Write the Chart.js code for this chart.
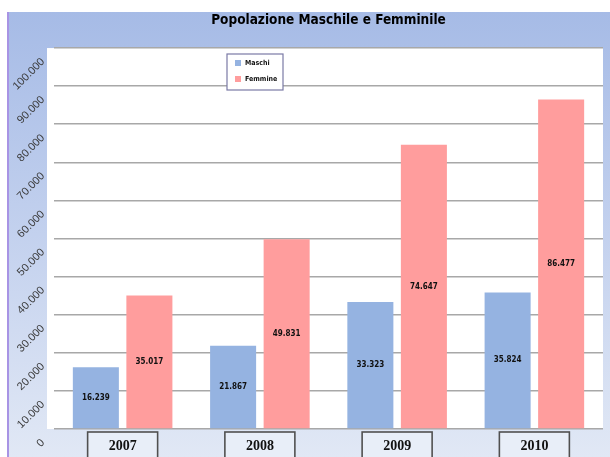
<!DOCTYPE html>
<html><head><meta charset="utf-8">
<script src="https://cdn.jsdelivr.net/npm/chart.js@4.4.0/dist/chart.umd.min.js"></script>
<style>html,body{margin:0;padding:0;background:#fff;}#wrap{width:610px;height:457px;position:relative;overflow:hidden}</style>
</head><body><div id="wrap"><canvas id="c" width="610" height="457"></canvas></div>
<script>
const categories = ['2007', '2008', '2009', '2010'];
const seriesNames = ['Maschi', 'Femmine'];
const maschi = [16239, 21867, 33323, 35824];
const femmine = [35017, 49831, 74647, 86477];
const yMin = 0, yMax = 100000, yStep = 10000;

const NARROW = '"Liberation Sans Narrow", "DejaVu Sans Condensed", "Arial Narrow", sans-serif';
const colors = ['#95b3e1', '#ff9d9d'];

function fmt(v) { return String(v).replace(/\B(?=(\d{3})+(?!\d))/g, '.'); }

const bgPlugin = {
  id: 'bg',
  beforeDraw(chart) {
    const ctx = chart.ctx, a = chart.chartArea;
    ctx.save();
    const g = ctx.createLinearGradient(0, 12, 0, 457);
    g.addColorStop(0, '#a6bbe6');
    g.addColorStop(0.5, '#c3d1ee');
    g.addColorStop(1, '#e1e8f5');
    ctx.fillStyle = g;
    ctx.fillRect(8, 12, 602, 445);
    ctx.fillStyle = '#a894e4';
    ctx.fillRect(7, 12, 2, 445);
    ctx.fillStyle = '#ffffff';
    ctx.fillRect(47, a.top, a.right - 47, a.bottom - a.top);
    // category label boxes
    const xs = chart.scales.x;
    ctx.strokeStyle = '#505050';
    ctx.lineWidth = 1.6;
    for (let i = 0; i < categories.length; i++) {
      const x = xs.getPixelForTick(i);
      ctx.fillStyle = '#e8eef8';
      ctx.fillRect(x - 35, a.bottom + 3, 70, 40);
      ctx.strokeRect(x - 35, a.bottom + 3, 70, 40);
    }
    ctx.restore();
  }
};

const valuePlugin = {
  id: 'values',
  afterDatasetsDraw(chart) {
    const ctx = chart.ctx;
    ctx.save();
    ctx.font = 'bold 8px ' + NARROW;
    ctx.fillStyle = '#111';
    ctx.textAlign = 'center';
    ctx.textBaseline = 'middle';
    chart.data.datasets.forEach((ds, di) => {
      chart.getDatasetMeta(di).data.forEach((el, i) => {
        ctx.fillText(fmt(ds.data[i]), el.x, (el.y + el.base) / 2);
      });
    });
    ctx.restore();
  }
};

const legendPlugin = {
  id: 'boxLegend',
  afterDraw(chart) {
    const ctx = chart.ctx;
    ctx.save();
    ctx.fillStyle = '#fff';
    ctx.fillRect(227, 54, 56, 36);
    ctx.strokeStyle = '#7b7aa6';
    ctx.lineWidth = 1.2;
    ctx.strokeRect(227, 54, 56, 36);
    ctx.font = 'bold 7px ' + NARROW;
    ctx.textBaseline = 'middle';
    ctx.textAlign = 'left';
    chart.data.datasets.forEach((ds, di) => {
      const y = 63 + di * 16;
      ctx.fillStyle = ds.backgroundColor;
      ctx.fillRect(235, y - 3, 6, 6);
      ctx.fillStyle = '#111';
      ctx.fillText(ds.label, 245, y);
    });
    ctx.restore();
  }
};

new Chart(document.getElementById('c'), {
  type: 'bar',
  data: {
    labels: categories,
    datasets: [
      { label: seriesNames[0], data: maschi, backgroundColor: colors[0], borderWidth: 0 },
      { label: seriesNames[1], data: femmine, backgroundColor: colors[1], borderWidth: 0 }
    ]
  },
  options: {
    responsive: false,
    animation: false,
    devicePixelRatio: 1,
    datasets: { bar: { categoryPercentage: 0.78, barPercentage: 0.86 } },
    layout: { padding: { left: 8, right: 7, top: 0, bottom: 0 } },
    plugins: {
      legend: { display: false },
      tooltip: { enabled: false },
      title: {
        display: true,
        text: 'Popolazione Maschile e Femminile',
        color: '#000',
        fullSize: false,
        font: { family: NARROW, size: 13.5, weight: 'bold', lineHeight: 1.3 },
        padding: { top: 12, bottom: 18.5 }
      }
    },
    scales: {
      x: {
        grid: { display: false, drawTicks: false },
        border: { display: false },
        ticks: { color: '#111', font: { family: '"Liberation Serif", "Times New Roman", serif', size: 14, weight: 'bold' }, padding: 9 },
        afterFit(s) { s.height = 28; }
      },
      y: {
        min: yMin, max: yMax,
        grid: { color: '#a8a8a8', lineWidth: 1.5, drawTicks: false },
        border: { display: false },
        ticks: {
          stepSize: yStep,
          color: '#3a3a3a',
          font: { family: '"Liberation Sans", Arial, sans-serif', size: 11 },
          minRotation: 45, maxRotation: 45,
          padding: 11,
          labelOffset: 12,
          callback: v => fmt(v)
        },
        afterFit(s) { s.width = 46; }
      }
    }
  },
  plugins: [bgPlugin, valuePlugin, legendPlugin]
});
</script>
</body></html>
